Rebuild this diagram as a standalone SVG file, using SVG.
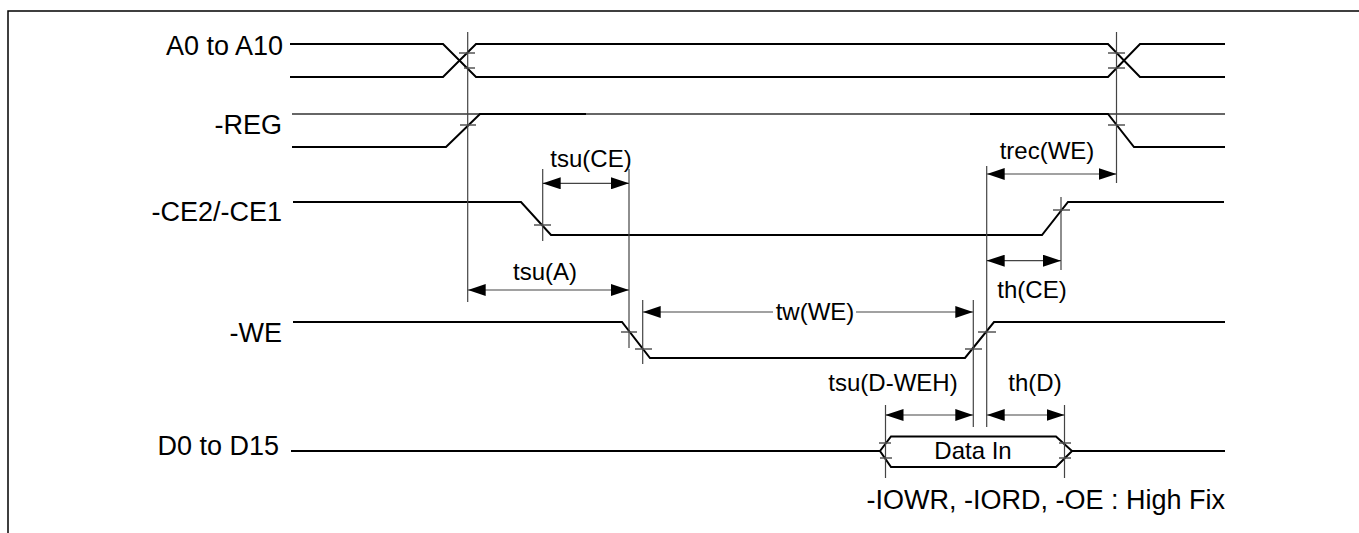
<svg xmlns="http://www.w3.org/2000/svg" width="1359" height="533" viewBox="0 0 1359 533">
<defs>
<style>
.sig{fill:none;stroke:#000;stroke-width:2;stroke-linejoin:miter}
.thin{fill:none;stroke:#333;stroke-width:1.5}
.ref{fill:none;stroke:#444;stroke-width:1.2}
.tick{fill:none;stroke:#555;stroke-width:1.3}
.dim{fill:none;stroke:#444;stroke-width:1.2;marker-start:url(#ah);marker-end:url(#ah)}
.lbl{font-family:"Liberation Sans",Arial,sans-serif;font-size:27px;fill:#000;text-anchor:end}
.tl{font-family:"Liberation Sans",Arial,sans-serif;font-size:24px;fill:#000;text-anchor:middle}
</style>
<marker id="ah" viewBox="0 0 18 12" refX="18" refY="6" markerWidth="18" markerHeight="12" markerUnits="userSpaceOnUse" orient="auto-start-reverse">
<path d="M0,0 L18,6 L0,12 z" fill="#000"/>
</marker>
</defs>
<rect x="0" y="0" width="1359" height="533" fill="#fff"/>
<g id="frame">
<path d="M8,533 V11 H1359" fill="none" stroke="#000" stroke-width="1.5"/>
</g>
<g id="sig-a">
<text class="lbl" x="283" y="55">A0 to A10</text>
<path class="sig" d="M290,44 H443 L476,77 H1108 L1140,44 H1225"/>
<path class="sig" d="M290,77 H443 L476,44 H1108 L1140,77 H1225"/>
<path class="tick" d="M459,53 H475 M464,68 H475 M1108,53 H1125 M1108,68 H1125"/>
</g>
<g id="sig-reg">
<text class="lbl" x="282" y="134">-REG</text>
<path class="thin" d="M292,114 H1225"/>
<path class="sig" d="M292,147 H446 L480,114 H586 M970,114 H1108 L1134,147 H1225"/>
<path class="tick" d="M460,125 H476 M1108,125 H1125"/>
</g>
<g id="sig-ce">
<text class="lbl" x="282" y="221">-CE2/-CE1</text>
<path class="sig" d="M293,202 H521 L551,235 H1042 L1068,202 H1224"/>
<path class="tick" d="M534,225 H551 M1053,210 H1070"/>
</g>
<g id="sig-we">
<text class="lbl" x="282" y="342">-WE</text>
<path class="sig" d="M293,322 H622 L650,358 H965 L994,322 H1225"/>
<path class="tick" d="M621,332 H637 M635,349 H652 M965,349 H982 M978,332 H996"/>
</g>
<g id="sig-d">
<text class="lbl" x="279" y="455">D0 to D15</text>
<path class="sig" d="M291,451 H880 M1072,451 H1225"/>
<path class="sig" d="M880,451 L891,436.5 H1056 L1072,451 L1056,467 H891 Z" stroke-width="1.8"/>
<path class="tick" d="M879,443 H891 M880,458 H892 M1059,443 H1071 M1059,458 H1071"/>
<text class="tl" x="973" y="459">Data In</text>
</g>
<g id="connectors">
<path class="ref" d="M467.7,32 V302 M1116.5,32 V183 M542.7,169 V241 M629,169 V348 M642.7,300 V364 M973.3,300 V427 M986.7,166 V427 M1061,197 V270 M885.5,405 V478 M1064.5,405 V478"/>
<path class="dim" d="M542.7,183.3 H629"/>
<path class="dim" d="M467.7,290 H629"/>
<path class="ref" d="M642.7,312 H773" style="marker-start:url(#ah)"/>
<path class="ref" d="M856,312 H973.3" style="marker-end:url(#ah)"/>
<path class="dim" d="M986.7,174 H1116.5"/>
<path class="dim" d="M986.7,260.7 H1061"/>
<path class="dim" d="M885.5,415 H973.3"/>
<path class="dim" d="M986.7,415 H1064.5"/>
</g>
<g id="timing-labels">
<text class="tl" x="591" y="167">tsu(CE)</text>
<text class="tl" x="545" y="280">tsu(A)</text>
<text class="tl" x="815" y="320">tw(WE)</text>
<text class="tl" x="1047" y="159">trec(WE)</text>
<text class="tl" x="1032" y="298">th(CE)</text>
<text class="tl" x="893" y="391">tsu(D-WEH)</text>
<text class="tl" x="1035" y="391">th(D)</text>
<text class="lbl" x="1225" y="509">-IOWR, -IORD, -OE : High Fix</text>
</g>
</svg>
